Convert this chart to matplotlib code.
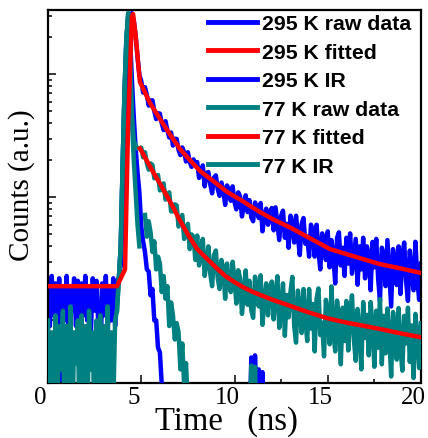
import numpy as np
import matplotlib
matplotlib.use('Agg')
import matplotlib.pyplot as plt
from matplotlib.ticker import MultipleLocator, LogLocator, NullFormatter
from matplotlib.transforms import ScaledTranslation

# time grid of the decay traces (ns)
t = np.round(np.arange(0, 20.05, 0.1), 1)

# 295 K raw counts, one value per 0.1 ns
raw_295 = [
    21, 9, 23, 11, 20, 8, 22, 3, 19, 10,
    23, 8, 18, 12, 22, 9, 21, 7, 20, 11,
    23, 10, 19, 8, 22, 12, 21, 9, 3, 20,
    11, 23, 8, 19, 10, 22, 9, 20, 22, 28,
    60, 200, 600, 1400, 2500, 3150, 2750, 2050, 1380, 990,
    886, 712, 787, 681, 558, 615, 616, 504, 433, 484,
    480, 400, 353, 417, 352, 307, 337, 264, 300, 299,
    243, 221, 255, 234, 196, 233, 194, 177, 204, 184,
    194, 144, 154, 182, 123, 158, 161, 128, 108, 145,
    151, 117, 103, 132, 113, 87, 125, 113, 94, 123,
    92, 80, 110, 102, 70, 87, 104, 76, 95, 69,
    64, 91, 81, 68, 90, 53, 70, 81, 60, 75,
    82, 54, 83, 61, 45, 71, 78, 47, 61, 39,
    71, 62, 43, 71, 48, 34, 61, 68, 42, 48,
    33, 60, 52, 33, 60, 37, 26, 51, 42, 31,
    53, 27, 45, 34, 20, 47, 52, 28, 39, 23,
    47, 29, 51, 24, 33, 46, 19.5, 40, 26, 47,
    22, 40, 34, 17.6, 43.5, 27, 46, 22, 14.5, 39,
    34, 19, 45, 24, 13, 38, 30, 19.4, 40, 16.4,
    34, 43, 21, 14.4, 37, 24, 17.6, 43.6, 22, 14.7,
    29,
]

# 77 K raw counts
raw_77 = [
    10, 1.5, 8, 1, 11, 2, 9, 4, 12, 1,
    9, 2, 13, 1, 8, 4.5, 10, 1, 11, 2,
    9, 1, 12, 4, 8, 1, 10, 2, 11, 1,
    9, 1.5, 13, 1, 8, 2, 10, 12, 22, 40,
    180, 700, 1900, 3150, 1300, 450, 290, 265, 250, 250,
    254, 212, 233, 190, 168, 189, 184, 143, 149, 152,
    114, 116, 130, 96, 105, 110, 77, 77, 88, 86,
    58, 67, 72, 46, 50, 61, 38, 50, 48, 31,
    49, 28, 39, 46, 23, 30, 40, 24, 19, 34,
    37, 22, 18, 31, 26, 15, 29, 20, 17, 30,
    21.5, 13.7, 25.6, 22, 11.3, 16.7, 25.5, 13.4, 21, 12.1,
    10.5, 22.7, 18.2, 13, 23.3, 9.2, 14.4, 20, 11, 18,
    20.7, 10.2, 15.8, 22.9, 8.7, 12.5, 20, 7.5, 16.1, 10.6,
    17, 22.6, 9, 6.6, 17.5, 12.9, 7.9, 18, 10.1, 6.8,
    18, 8.6, 13.6, 5.6, 15, 18.2, 7.6, 9.6, 5.1, 14.7,
    11.4, 6.4, 18.9, 8.2, 5.6, 14.5, 9.9, 4.4, 12.7, 6.8,
    14.4, 5.7, 11.4, 16, 7, 4.7, 12.4, 8.3, 4, 14.1,
    7.2, 11.1, 5.2, 14.1, 8.8, 4.2, 12, 6, 14.9, 4.4,
    10.9, 5.4, 12.5, 7.4, 3.5, 11.7, 8.8, 4.8, 12.6, 5.9,
    3.9, 10.9, 6.5, 12.7, 4.6, 9.1, 3.4, 11.3, 7.4, 4.1,
    9.5,
]

# instrument response, 0 = no counts
ir_295 = [
    0, 0, 0, 0, 0, 0, 0, 0, 0, 0,
    0, 0, 0, 0, 0, 0, 0, 0, 0, 0,
    0, 0, 0, 0, 0, 0, 0, 0, 0, 0,
    0, 0, 0, 0, 0, 0, 0, 0, 22, 40,
    180, 700, 1900, 3000, 2000, 900, 450, 250, 160, 110,
    58, 44, 36, 26, 25, 16, 18, 10, 10, 6,
    5.5, 3, 1.5, 0, 0, 0, 0, 0, 0, 0,
    0, 0, 0, 0, 0, 0, 0, 0, 0, 0,
    0, 0, 0, 0, 0, 0, 0, 0, 0, 0,
    0, 0, 0, 0, 0, 0, 0, 0, 0, 0,
    0, 0, 0, 0, 0, 0, 0, 0, 1, 5.0,
    1.5, 5.2, 2, 4.0, 1.5, 3.8, 1, 0, 0, 0,
] + [0] * 81

ir_77 = [
    0, 0, 0, 0, 0, 0, 0, 0, 0, 0,
    0, 0, 0, 0, 0, 0, 0, 0, 0, 0,
    0, 0, 0, 0, 0, 0, 0, 0, 0, 0,
    0, 0, 0, 0, 0, 0, 0, 12, 22, 40,
    180, 700, 1900, 3150, 1300, 420, 200, 110, 60, 40,
    0, 0, 72, 48, 64, 52, 36, 44, 26, 33,
    29, 17, 23, 15, 19, 9, 14, 11, 7, 9.5,
    8, 4, 6.5, 3, 4.5, 2, 0, 0, 0, 0,
    0, 0, 0, 0, 0, 0, 0, 0, 0, 0,
    0, 0, 0, 0, 0, 0, 0, 0, 0, 0,
    0, 0, 0, 0, 0, 0, 0, 0, 1, 4.3,
    1, 4.2, 1, 0, 0, 0, 0, 0, 0, 0,
] + [0] * 81

# fitted curves
fit_295_t = [0, 3.7, 4.13, 4.29, 4.5, 4.56, 4.68, 4.77, 4.85, 4.93,
             5.1, 5.47, 5.8, 6.11, 6.6, 7.08, 7.6, 8.15, 8.8, 9.6,
             10.4, 11.37, 12.1, 12.98, 14.0, 15.12, 16.4, 17.8, 18.9, 20.0]
fit_295 = [19, 19, 26, 360, 2985, 3097, 2200, 1607, 1150, 867,
           766, 585, 487, 410, 315, 247, 202, 164, 138, 111,
           94, 76, 66, 57, 47, 38, 33.2, 28.7, 26.5, 24.3]
fit_77_t = [4.93, 5.0, 5.25, 5.5, 5.75, 6.0, 6.25, 6.5, 6.75, 7.0,
            7.5, 8.0, 8.5, 9.0, 9.5, 10.0, 10.5, 11.0, 12.0, 13.0,
            14.0, 15.0, 16.0, 17.0, 18.0, 19.0, 20.0]
fit_77 = [250, 240, 205, 175, 150, 130, 111, 95, 81, 68,
          50, 38, 32, 27, 23, 20.5, 18.5, 17, 14.8, 13.1,
          11.6, 10.4, 9.6, 9.0, 8.4, 7.8, 7.3]

labels = ['295 K raw data', '295 K fitted', '295 K IR',
          '77 K raw data', '77 K fitted', '77 K IR']
xticks = [0, 5, 10, 15, 20]

blue = '#0000FF'
red = '#FF0000'
teal = '#008080'

fig = plt.figure(figsize=(4.28, 4.39), dpi=100)
ax = fig.add_axes([48/428, 1 - 384/439, 373/428, 373/439])
ax.set_yscale('log', nonpositive='mask')

lw = 3.2
h1, = ax.plot(t, raw_295, color=blue, lw=lw, zorder=2, label=labels[0])
h3, = ax.plot(t, ir_295, color=blue, lw=lw, zorder=3, label=labels[2])
h4, = ax.plot(t, raw_77, color=teal, lw=lw, zorder=4, label=labels[3])
h6, = ax.plot(t, ir_77, color=teal, lw=lw, zorder=5, label=labels[5])
h2, = ax.plot(fit_295_t, fit_295, color=red, lw=lw, zorder=6, label=labels[1])
h5, = ax.plot(fit_77_t, fit_77, color=red, lw=lw, zorder=7, label=labels[4])

ax.set_xlim(0, 20)
ax.set_ylim(3.1, 3340)

ax.set_xticks(xticks)
ax.xaxis.set_minor_locator(MultipleLocator(2.5))
ax.yaxis.set_major_locator(LogLocator(base=10))
ax.yaxis.set_minor_locator(LogLocator(base=10, subs=np.arange(2, 10)))
ax.yaxis.set_major_formatter(NullFormatter())
ax.yaxis.set_minor_formatter(NullFormatter())
ax.tick_params(which='both', direction='in', top=False, right=False, width=1.1)
ax.tick_params(which='major', length=6)
ax.tick_params(which='minor', length=3)
ax.tick_params(axis='x', pad=2, labelsize=18)
# tick labels sit a little left of their ticks, as in the original
shift = ScaledTranslation(-7.5/100, 0, fig.dpi_scale_trans)
for lab in ax.get_xticklabels():
    lab.set_family('Liberation Serif')
    lab.set_transform(lab.get_transform() + shift)
for s in ax.spines.values():
    s.set_linewidth(1.6)

leg = ax.legend(handles=[h1, h2, h3, h4, h5, h6], loc='upper left',
                bbox_to_anchor=(208/428, 1 - 15/439), bbox_transform=fig.transFigure,
                frameon=False, borderpad=0, borderaxespad=0,
                handlelength=2.3, handletextpad=0.25, labelspacing=0.45,
                prop={'family': 'Liberation Sans', 'weight': 'bold', 'size': 15.3})
for line in leg.get_lines():
    line.set_linewidth(3.5)

fig.text(226/428, 9/439, 'Time   (ns)', ha='center', va='baseline',
         family='Liberation Serif', fontsize=23.5)
fig.text(22/428, 1 - 185/439, 'Counts (a.u.)', ha='center', va='center',
         rotation=90, family='Liberation Serif', fontsize=21)

fig.savefig('out.png', dpi=100)
